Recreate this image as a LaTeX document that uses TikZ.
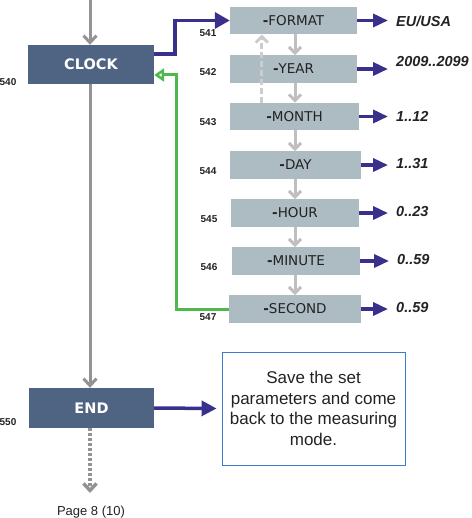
\documentclass[tikz,border=0pt]{standalone}
\usepackage{fontspec}
\setmainfont{Liberation Sans}
\newfontfamily\dv{DejaVu Sans}
\usetikzlibrary{arrows.meta,calc}
\definecolor{darkbox}{HTML}{4F6382}
\definecolor{graybox}{HTML}{ADBBC3}
\definecolor{mainline}{HTML}{939393}
\definecolor{lightline}{HTML}{BFBFBF}
\definecolor{navy}{HTML}{38308A}
\definecolor{greenl}{HTML}{4DB84D}
\definecolor{blueborder}{HTML}{3B7DC9}
\definecolor{txt}{HTML}{222222}
\tikzset{
  darknode/.style={fill=darkbox,text=white,inner sep=0pt,font=\dv\bfseries\fontsize{14.5}{15}\selectfont},
  graynode/.style={fill=graybox,text=txt,inner sep=0pt,minimum height=27.5pt,font=\dv\fontsize{13.5}{14}\selectfont},
  numlabel/.style={text=txt,inner sep=0pt,font=\bfseries\fontsize{10}{11}\selectfont},
  vallabel/.style={text=txt,anchor=west,inner sep=0pt,font=\bfseries\itshape\fontsize{14.5}{15}\selectfont},
  mainarrow/.style={draw=mainline,line width=3pt,-{Straight Barb[length=7pt,width=13pt]}},
  innerarrow/.style={draw=lightline,line width=3pt,-{Straight Barb[length=6pt,width=12pt]}},
  navyarrow/.style={draw=navy,line width=3.5pt,-{Triangle[length=15pt,width=15pt]}},
  greenarrow/.style={draw=greenl,line width=3pt,-{Triangle[open,length=10pt,width=13pt]}},
}
\begin{document}
\begin{tikzpicture}[x=1pt,y=-1pt]
\useasboundingbox (0,0) rectangle (471,518);
% main nodes
\node[darknode,minimum width=126pt,minimum height=39pt] (clock) at (91,64.5) {CLOCK};
\node[darknode,minimum width=125pt,minimum height=40pt] (endn) at (91.5,408) {END};
\node[draw=blueborder,line width=0.9pt,minimum width=183pt,minimum height=113pt,inner sep=0pt,
      align=center,text=txt,font=\fontsize{17}{20.5}\selectfont] (save) at (313.5,408.5)
      {Save the set\\parameters and come\\back to the measuring\\mode.};
% gray boxes
\node[graynode,minimum width=127pt] (fmt) at (293.5,20.5) {{\bfseries -}FORMAT};
\node[graynode,minimum width=127pt] (year) at (293.5,69) {{\bfseries -}YEAR};
\node[graynode,minimum width=129pt] (month) at (294.5,116.5) {{\bfseries -}MONTH};
\node[graynode,minimum width=131pt] (day) at (295.5,165) {{\bfseries -}DAY};
\node[graynode,minimum width=128pt] (hour) at (295,213) {{\bfseries -}HOUR};
\node[graynode,minimum width=128pt] (minute) at (296,261) {{\bfseries -}MINUTE};
\node[graynode,minimum width=132pt] (second) at (295,309) {{\bfseries -}SECOND};
% number labels
\node[numlabel] (n540) at (8,82) {540};
\node[numlabel] (n541) at (208,33) {541};
\node[numlabel] (n542) at (208,72) {542};
\node[numlabel] (n543) at (208,122) {543};
\node[numlabel] (n544) at (208,171) {544};
\node[numlabel] (n545) at (209,219) {545};
\node[numlabel] (n546) at (209,267) {546};
\node[numlabel] (n547) at (208,317) {547};
\node[numlabel] (n550) at (8,422) {550};
% value labels
\node[vallabel] (v1) at (396,21) {EU/USA};
\node[vallabel] (v2) at (396,62) {2009..2099};
\node[vallabel] (v3) at (396,116) {1..12};
\node[vallabel] (v4) at (396,164) {1..31};
\node[vallabel] (v5) at (396,212) {0..23};
\node[vallabel] (v6) at (397,260) {0..59};
\node[vallabel] (v7) at (396,308) {0..59};
\node[text=txt,inner sep=0pt,font=\fontsize{13}{14}\selectfont] (page) at (91,512) {Page 8 (10)};
% main flow
\coordinate (top) at (90,0);
\draw[mainarrow] (top) -- (top |- clock.north);
\draw[mainarrow] (clock.south -| top) -- (endn.north -| top);
\coordinate (pend) at (90,493);
\draw[draw=mainline,line width=3.5pt,dash pattern=on 3pt off 2pt,-{Straight Barb[length=7pt,width=13pt]}] (endn.south -| top) -- (pend);
\draw[navyarrow] (endn.east) -- ([xshift=-5pt]save.west);
% clock -> format
\draw[navyarrow,-{Triangle[length=15pt,width=16pt]}] ([yshift=10.5pt]clock.east) -- ++(21,0) |- (fmt.west);
% green return
\draw[greenarrow] (second.west) -| ($(clock.east)+(22,10.5)$) -- ([yshift=-10.5pt]clock.east);
% inner gray arrows
\coordinate (ax) at (295,0);
\draw[innerarrow] (fmt.south -| ax) -- (year.north -| ax);
\draw[innerarrow] (year.south -| ax) -- (month.north -| ax);
\draw[innerarrow] (month.south -| ax) -- (day.north -| ax);
\draw[innerarrow] (day.south -| ax) -- (hour.north -| ax);
\draw[innerarrow] (hour.south -| ax) -- (minute.north -| ax);
\draw[innerarrow] (minute.south -| ax) -- (second.north -| ax);
\draw[innerarrow,draw=lightline!80,dash pattern=on 6pt off 3pt] ($(month.north west)+(32,0)$) -- ($(fmt.south west)+(32,0)$);
% value arrows
\draw[navyarrow,-{Triangle[length=15pt,width=13pt]}] (fmt.east) -- ([xshift=-8pt]fmt.east -| v1.west);
\draw[navyarrow,-{Triangle[length=15pt,width=13pt]}] (year.east) -- ([xshift=-8pt]year.east -| v2.west);
\draw[navyarrow,-{Triangle[length=15pt,width=13pt]}] (month.east) -- ([xshift=-8pt]month.east -| v3.west);
\draw[navyarrow,-{Triangle[length=15pt,width=13pt]}] (day.east) -- ([xshift=-8pt]day.east -| v4.west);
\draw[navyarrow,-{Triangle[length=15pt,width=13pt]}] (hour.east) -- ([xshift=-8pt]hour.east -| v5.west);
\draw[navyarrow,-{Triangle[length=15pt,width=13pt]}] (minute.east) -- ([xshift=-8pt]minute.east -| v6.west);
\draw[navyarrow,-{Triangle[length=15pt,width=13pt]}] (second.east) -- ([xshift=-8pt]second.east -| v7.west);
\end{tikzpicture}
\end{document}
